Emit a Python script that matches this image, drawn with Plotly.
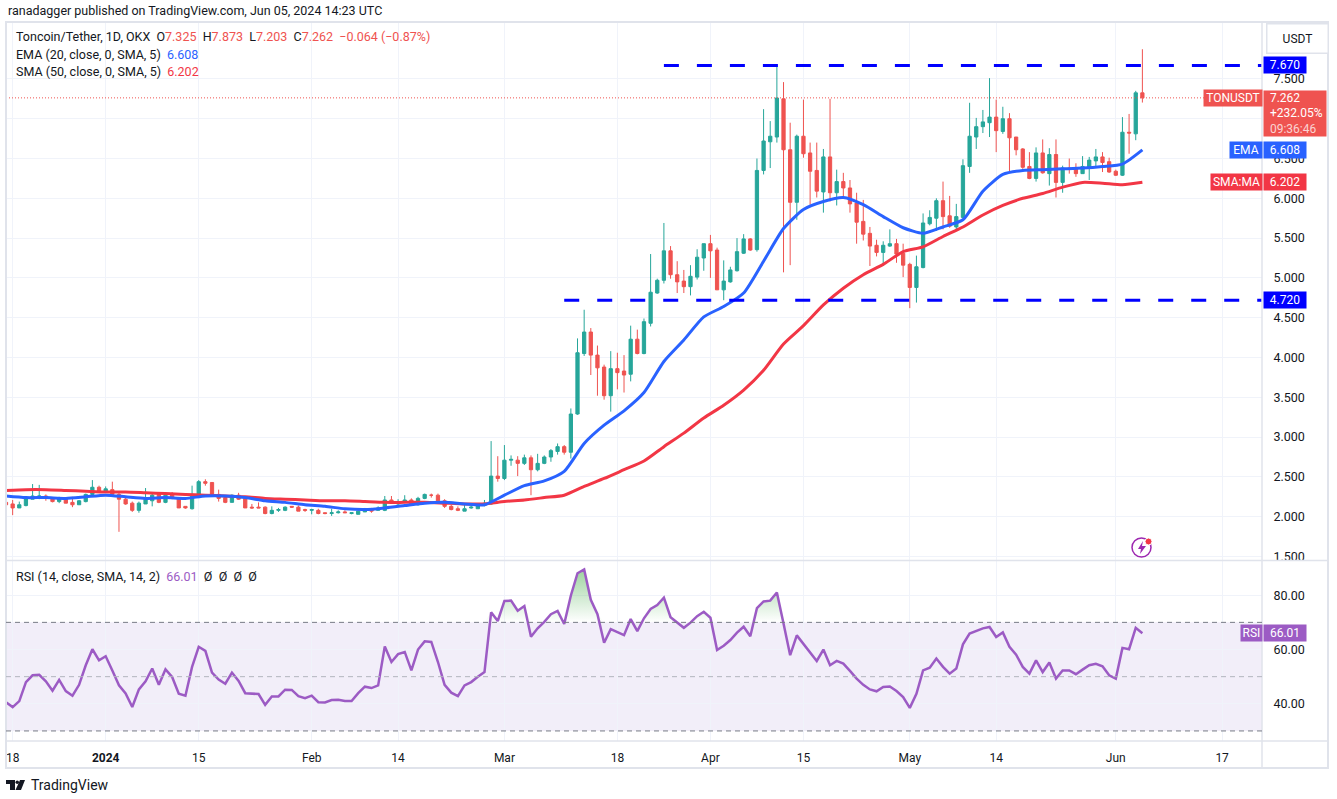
import numpy as np
import pandas as pd
import plotly.graph_objects as go

W, H = 1337, 799
FONT = "Roboto"
TEXT = "#131722"
UP, DOWN = "#26a69a", "#ef5350"
BLUE, RED, PURPLE = "#2962ff", "#f23645", "#9c5bc4"
GRID, FRAME = "#f0f3fa", "#e0e3eb"

opens = [
    2.18,2.16,2.11,2.14,2.22,2.25,2.26,2.23,2.19,2.23,
    2.18,2.15,2.19,2.28,2.37,2.32,2.34,2.28,2.22,2.17,
    2.08,2.16,2.20,2.28,2.18,2.28,2.23,2.13,2.10,2.28,
    2.44,2.43,2.28,2.24,2.18,2.27,2.23,2.12,2.12,2.12,
    2.04,2.08,2.08,2.13,2.12,2.09,2.08,2.08,2.05,2.04,
    2.05,2.06,2.04,2.03,2.06,2.09,2.08,2.08,2.21,2.16,
    2.18,2.21,2.15,2.23,2.27,2.27,2.20,2.13,2.10,2.07,
    2.11,2.10,2.14,2.16,2.51,2.48,2.71,2.71,2.67,2.74,
    2.59,2.67,2.75,2.82,2.88,2.81,3.29,4.05,4.32,4.03,
    3.88,3.52,3.86,3.83,3.79,4.23,4.05,4.43,4.81,4.97,
    5.34,5.04,4.96,4.89,5.01,5.25,5.43,5.35,4.85,4.95,
    5.09,5.31,5.49,5.355,6.35,6.71,6.77,7.25,6.61,5.95,
    6.78,6.57,6.35,6.08,6.52,6.07,6.21,6.13,5.94,5.71,
    5.56,5.41,5.32,5.40,5.43,5.31,5.17,4.88,5.13,5.68,
    5.75,5.97,5.78,5.64,5.76,6.40,6.77,6.90,6.95,7.02,
    6.84,7.00,6.77,6.62,6.40,6.25,6.57,6.31,6.55,6.20,
    6.38,6.38,6.31,6.39,6.47,6.52,6.46,6.34,6.29,6.83,6.81,7.325,
]
highs = [
    2.19,2.21,2.19,2.24,2.41,2.40,2.28,2.24,2.25,2.24,
    2.25,2.21,2.29,2.46,2.39,2.38,2.44,2.30,2.24,2.19,
    2.19,2.36,2.29,2.29,2.28,2.31,2.24,2.13,2.39,2.46,
    2.47,2.43,2.34,2.26,2.28,2.30,2.24,2.16,2.18,2.13,
    2.13,2.11,2.13,2.13,2.14,2.10,2.10,2.10,2.05,2.10,
    2.08,2.08,2.05,2.08,2.11,2.11,2.13,2.26,2.26,2.22,
    2.27,2.23,2.25,2.29,2.29,2.29,2.22,2.15,2.13,2.16,
    2.14,2.15,2.21,2.95,2.76,2.90,2.77,2.76,2.78,2.77,
    2.79,2.77,2.85,2.92,2.90,3.36,4.24,4.60,4.37,4.15,
    3.91,4.08,4.06,4.03,4.40,4.35,4.49,5.30,4.99,5.69,
    5.40,5.21,5.10,5.16,5.36,5.43,5.54,5.38,5.22,5.14,
    5.50,5.55,5.50,6.50,7.12,6.97,7.68,7.46,6.95,6.80,
    7.24,6.70,6.70,6.62,7.25,6.36,6.32,6.23,6.07,5.98,
    5.64,5.48,5.46,5.61,5.49,5.43,5.19,5.28,5.81,5.85,
    6.00,6.21,6.03,5.93,6.49,7.20,7.01,7.11,7.51,7.24,
    7.15,7.07,6.77,6.63,6.58,6.64,6.74,6.63,6.74,6.41,
    6.50,6.44,6.53,6.52,6.62,6.58,6.51,6.36,7.02,7.06,7.35,7.873,
]
lows = [
    2.14,2.02,2.11,2.13,2.22,2.22,2.20,2.18,2.17,2.17,
    2.12,2.15,2.18,2.27,2.31,2.31,2.27,1.81,2.15,2.06,
    2.05,2.16,2.13,2.17,2.17,2.22,2.11,2.10,2.09,2.27,
    2.39,2.26,2.19,2.17,2.18,2.21,2.11,2.10,2.11,2.03,
    2.03,2.06,2.07,2.11,2.07,2.06,2.03,2.03,2.03,2.01,
    2.04,2.05,2.03,2.03,2.06,2.05,2.08,2.07,2.16,2.14,
    2.17,2.14,2.14,2.22,2.24,2.19,2.11,2.08,2.07,2.07,
    2.10,2.10,2.13,2.15,2.44,2.46,2.64,2.51,2.65,2.27,
    2.57,2.66,2.69,2.78,2.78,2.73,3.28,4.02,3.78,3.52,
    3.47,3.32,3.60,3.56,3.70,4.04,4.04,4.39,4.80,4.93,
    4.99,4.81,4.81,4.78,4.98,5.09,5.00,4.85,4.72,4.94,
    5.08,5.30,5.34,5.33,6.30,6.38,6.70,5.07,5.16,5.73,
    6.51,5.92,6.01,5.82,5.96,5.91,6.02,5.82,5.43,5.47,
    5.15,5.27,5.15,5.39,5.19,5.01,4.62,4.69,5.12,5.66,
    5.59,5.61,5.63,5.61,5.75,6.32,6.62,6.82,6.77,6.58,
    6.81,6.34,6.54,6.37,6.24,6.21,6.31,6.16,6.01,6.07,
    6.31,6.27,6.31,6.23,6.40,6.33,6.32,6.28,6.28,6.56,6.73,7.203,
]
closes = [
    2.15,2.11,2.15,2.23,2.26,2.26,2.23,2.19,2.23,2.17,
    2.15,2.20,2.28,2.37,2.32,2.35,2.28,2.22,2.16,2.08,
    2.17,2.22,2.27,2.18,2.27,2.23,2.11,2.11,2.28,2.44,
    2.42,2.27,2.23,2.18,2.27,2.22,2.11,2.11,2.11,2.04,
    2.08,2.09,2.12,2.12,2.07,2.08,2.09,2.04,2.04,2.05,
    2.06,2.05,2.05,2.07,2.10,2.07,2.11,2.21,2.17,2.19,
    2.21,2.15,2.23,2.28,2.27,2.20,2.13,2.09,2.08,2.10,
    2.12,2.14,2.17,2.51,2.48,2.71,2.72,2.67,2.74,2.59,
    2.67,2.75,2.83,2.88,2.81,3.29,4.06,4.32,4.03,3.87,
    3.52,3.86,3.81,3.78,4.23,4.05,4.45,4.82,4.97,5.34,
    5.04,4.95,4.89,5.02,5.26,5.43,5.34,4.85,4.96,5.10,
    5.33,5.49,5.35,6.35,6.72,6.78,7.26,6.61,5.95,6.78,
    6.56,6.34,6.09,6.52,6.07,6.21,6.13,5.93,5.70,5.55,
    5.40,5.32,5.41,5.43,5.30,5.16,4.88,5.14,5.69,5.76,
    5.97,5.77,5.65,5.77,6.41,6.78,6.90,6.96,7.02,6.85,
    7.00,6.76,6.61,6.39,6.25,6.57,6.32,6.55,6.20,6.38,
    6.37,6.31,6.40,6.48,6.52,6.45,6.33,6.29,6.83,6.82,7.325,7.262,
]

# moving averages, read every third day
ema_values = [
    2.26,2.24,2.24,2.23,2.25,2.27,2.25,2.23,2.24,2.23,
    2.26,2.26,2.24,2.20,2.18,2.15,2.13,2.10,2.09,2.11,
    2.14,2.17,2.18,2.16,2.15,2.27,2.39,2.45,2.57,2.92,
    3.15,3.33,3.56,3.95,4.22,4.51,4.64,4.81,5.21,5.62,
    5.86,5.96,6.01,5.92,5.77,5.63,5.56,5.64,5.73,6.09,
    6.30,6.35,6.36,6.37,6.38,6.40,6.43,6.608,
]
sma_values = [
    2.33,2.34,2.34,2.33,2.32,2.31,2.31,2.30,2.29,2.28,
    2.27,2.26,2.25,2.23,2.22,2.21,2.20,2.20,2.19,2.18,
    2.18,2.18,2.17,2.16,2.16,2.19,2.21,2.24,2.27,2.38,
    2.48,2.59,2.70,2.88,3.05,3.24,3.40,3.59,3.84,4.17,
    4.40,4.66,4.87,5.04,5.17,5.33,5.39,5.52,5.64,5.79,
    5.91,6.00,6.06,6.14,6.20,6.19,6.17,6.202,
]

rsi_values = [
    40.6,38.8,41.0,48.0,50.5,50.7,48.3,44.8,48.8,44.7,
    43.0,47.0,54.2,60.1,56.0,57.5,52.3,46.8,43.8,38.8,
    45.3,48.3,53.0,47.0,52.7,49.9,43.7,43.0,53.6,61.0,
    59.5,51.5,48.9,47.4,51.5,48.4,43.9,43.8,43.6,39.6,
    42.7,42.7,45.2,45.1,42.8,42.1,43.0,40.6,40.5,41.4,
    41.5,41.0,41.0,43.9,46.3,45.8,46.8,61.1,55.4,58.3,
    59.1,52.3,60.0,63.0,62.8,55.4,47.0,44.1,42.8,46.8,
    48.0,50.0,51.7,73.7,70.5,77.9,78.0,74.3,76.0,64.7,
    67.8,70.2,73.0,74.2,69.4,79.9,88.1,89.5,78.3,73.0,
    62.5,67.5,66.3,65.3,71.2,66.8,71.5,74.9,76.4,
    79.1,71.9,69.9,68.0,69.9,72.3,73.9,71.7,59.8,61.4,
    63.5,66.2,68.4,64.9,75.2,77.7,78.0,81.0,69.6,57.9,
    65.2,62.2,59.1,55.8,60.0,54.2,55.8,54.8,52.1,49.3,
    47.0,45.3,44.6,46.2,46.4,44.7,42.5,38.5,43.7,52.3,
    53.3,56.7,53.6,51.1,53.0,61.9,65.9,66.9,67.8,68.3,
    64.6,66.3,61.0,58.1,53.6,51.1,56.0,51.7,55.2,49.3,
    52.3,52.3,50.9,52.6,54.2,54.7,53.8,50.5,49.3,60.6,
    60.1,68.0,66.01,
]

dates = pd.date_range("2023-12-17", periods=len(closes))
line_dates = dates[::3]

resistance_level = 7.670
support_level = 4.720
resistance_dates = ["2024-03-25", "2024-06-23"]
support_dates = ["2024-03-10", "2024-06-23"]

time_ticks = ["2023-12-18", "2024-01-01", "2024-01-15", "2024-02-01", "2024-02-14", "2024-03-01",
              "2024-03-18", "2024-04-01", "2024-04-15", "2024-05-01", "2024-05-14", "2024-06-01", "2024-06-17"]
time_labels = ["18", "<b>2024</b>", "15", "Feb", "14", "Mar", "18", "Apr", "15", "May", "14", "Jun", "17"]
price_ticks = [1.5, 2, 2.5, 3, 3.5, 4, 4.5, 5, 5.5, 6, 6.5, 7, 7.5]
rsi_ticks = [40, 60, 80]


def px(x):
    return x / W


def py(y):
    return 1 - y / H


fig = go.Figure()

fig.add_trace(go.Candlestick(
    x=dates, open=opens, high=highs, low=lows, close=closes,
    whiskerwidth=0,
    increasing=dict(line=dict(color=UP, width=1), fillcolor=UP),
    decreasing=dict(line=dict(color=DOWN, width=1), fillcolor=DOWN),
    xaxis="x", yaxis="y",
))
fig.add_trace(go.Scatter(x=line_dates, y=sma_values, mode="lines", line=dict(color=RED, width=3, shape="spline", smoothing=0.6),
                         xaxis="x", yaxis="y"))
fig.add_trace(go.Scatter(x=line_dates, y=ema_values, mode="lines", line=dict(color=BLUE, width=3, shape="spline", smoothing=0.6),
                         xaxis="x", yaxis="y"))
for level, span_dates in [(resistance_level, resistance_dates), (support_level, support_dates)]:
    fig.add_trace(go.Scatter(x=span_dates, y=[level, level], mode="lines",
                             line=dict(color="#0000ff", width=3, dash="15px,18px"), xaxis="x", yaxis="y"))

# RSI pane, green above the 70 band
overbought = np.maximum(rsi_values, 70)
fig.add_trace(go.Scatter(x=dates, y=[70] * len(dates), mode="lines", line=dict(width=0), xaxis="x2", yaxis="y2"))
fig.add_trace(go.Scatter(
    x=dates, y=overbought, mode="lines", line=dict(width=0), fill="tonexty",
    fillgradient=dict(type="vertical", colorscale=[[0, "rgba(76,175,80,0)"], [1, "rgba(76,175,80,0.55)"]]),
    xaxis="x2", yaxis="y2",
))
fig.add_trace(go.Scatter(x=dates, y=rsi_values, mode="lines", line=dict(color=PURPLE, width=2.5), xaxis="x2", yaxis="y2"))

shapes = [
    dict(type="rect", xref="paper", yref="y2", x0=px(6), x1=px(1262), y0=30, y1=70,
         fillcolor="rgba(126,87,194,0.1)", line_width=0, layer="below"),
    dict(type="line", xref="paper", yref="y", x0=px(6), x1=px(1262), y0=closes[-1], y1=closes[-1],
         line=dict(color=DOWN, width=1, dash="1px,2px")),
    dict(type="rect", xref="paper", yref="paper", x0=px(6), x1=px(1328), y0=py(768), y1=py(22),
         line=dict(color=FRAME, width=2)),
    dict(type="line", xref="paper", yref="paper", x0=px(1262), x1=px(1262), y0=py(768), y1=py(22),
         line=dict(color=FRAME, width=1.5)),
    dict(type="line", xref="paper", yref="paper", x0=px(6), x1=px(1328), y0=py(560.5), y1=py(560.5),
         line=dict(color=FRAME, width=1.5)),
    dict(type="line", xref="paper", yref="paper", x0=px(6), x1=px(1328), y0=py(741), y1=py(741),
         line=dict(color=FRAME, width=1.5)),
]
for band, colour in [(70, "#787b86"), (50, "#b2b5be"), (30, "#787b86")]:
    shapes.append(dict(type="line", xref="paper", yref="y2", x0=px(6), x1=px(1262), y0=band, y1=band,
                       line=dict(color=colour, width=1, dash="5px,4px")))


def pixel_path(points):
    return "M" + " L".join(f"{px(x):.5f},{py(y):.5f}" for x, y in points) + " Z"


# logo bottom left
shapes.append(dict(type="path", xref="paper", yref="paper", fillcolor=TEXT, line_width=0,
                   path=pixel_path([(6, 780), (15, 780), (15, 790), (10, 790), (10, 784), (6, 784)])))
shapes.append(dict(type="path", xref="paper", yref="paper", fillcolor=TEXT, line_width=0,
                   path=pixel_path([(20, 780), (25, 780), (21, 790), (15.5, 790)])))
shapes.append(dict(type="circle", xref="paper", yref="paper", fillcolor=TEXT, line_width=0,
                   x0=px(15.5), x1=px(19), y0=py(784), y1=py(780.5)))

# flash icon above the RSI pane
shapes.append(dict(type="circle", xref="paper", yref="paper", fillcolor="white",
                   line=dict(color="#9c27b0", width=1.5),
                   x0=px(1132), x1=px(1151), y0=py(557), y1=py(538)))
shapes.append(dict(type="path", xref="paper", yref="paper", fillcolor="#9c27b0", line_width=0,
                   path=pixel_path([(1143, 541), (1138, 549), (1141, 549), (1140, 554), (1146, 546), (1142, 546)])))
shapes.append(dict(type="circle", xref="paper", yref="paper", fillcolor="#f23645", line=dict(color="white", width=1),
                   x0=px(1145), x1=px(1152), y0=py(545), y1=py(538)))


def text_at(x, y, text, size=12.5, color=TEXT):
    return dict(xref="paper", yref="paper", x=px(x), y=py(y), text=text, showarrow=False,
                xanchor="left", yanchor="middle", align="left", font=dict(family=FONT, size=size, color=color))


def span(text, color):
    return f'<span style="color:{color}">{text}</span>'


def price_tag(x, width, value, text, color, yref="y", height=16):
    return dict(xref="paper", yref=yref, x=px(x), y=value, text=text, showarrow=False, xanchor="left",
                yanchor="middle", align="center", width=width, height=height, bgcolor=color, borderpad=0,
                font=dict(family=FONT, size=12, color="white"))


annotations = [
    text_at(6, 10, "ranadagger published on TradingView.com, Jun 05, 2024 14:23 UTC"),
    text_at(14, 37, "Toncoin/Tether, 1D, OKX  O" + span("7.325", DOWN) + "  H" + span("7.873", DOWN)
            + "  L" + span("7.203", DOWN) + "  C" + span("7.262", DOWN) + "  " + span("−0.064 (−0.87%)", DOWN)),
    text_at(14, 54, "EMA (20, close, 0, SMA, 5)  " + span("6.608", BLUE)),
    text_at(14, 71, "SMA (50, close, 0, SMA, 5)  " + span("6.202", RED)),
    text_at(14, 576, "RSI (14, close, SMA, 14, 2)  " + span("66.01", PURPLE) + "  Ø  Ø  Ø  Ø"),
    text_at(29, 785, "TradingView", size=14),
    dict(xref="paper", yref="paper", x=px(1297), y=py(39), text="USDT", showarrow=False, xanchor="center",
         yanchor="middle", width=58, height=26, bordercolor=FRAME, borderwidth=1.5, bgcolor="white",
         font=dict(family=FONT, size=12, color=TEXT)),
    price_tag(1263, 42, resistance_level, "7.670", "#0000ff"),
    price_tag(1263, 42, support_level, "4.720", "#0000ff"),
    price_tag(1203, 58, closes[-1], "TONUSDT", DOWN),
    dict(xref="paper", yref="y", x=px(1263), y=closes[-1], yshift=8,
         text="&nbsp;&nbsp;7.262<br>&nbsp;&nbsp;+232.05%<br>&nbsp;&nbsp;" + span("09:36:46", "rgba(255,255,255,0.75)"),
         showarrow=False, xanchor="left", yanchor="top", align="left",
         width=62, height=45, bgcolor=DOWN, borderpad=0, font=dict(family=FONT, size=12, color="white")),
    price_tag(1229, 32, ema_values[-1], "EMA", BLUE),
    price_tag(1263, 42, ema_values[-1], "6.608", BLUE),
    price_tag(1210, 51, sma_values[-1], "SMA:MA", RED),
    price_tag(1263, 42, sma_values[-1], "6.202", RED),
    price_tag(1240, 21, rsi_values[-1], "RSI", PURPLE, yref="y2"),
    price_tag(1263, 42, rsi_values[-1], "66.01", PURPLE, yref="y2"),
]

x_range = ["2023-12-17", "2024-06-23"]
fig.update_layout(
    width=W, height=H + 4, margin=dict(l=0, r=0, t=0, b=0),
    paper_bgcolor="white", plot_bgcolor="white",
    showlegend=False, shapes=shapes, annotations=annotations,
    font=dict(family=FONT, size=12, color=TEXT),
    boxgap=0.3,
    xaxis=dict(domain=[px(6), px(1262)], range=x_range, anchor="y", tickvals=time_ticks, showticklabels=False,
               showgrid=True, gridcolor=GRID, zeroline=False, rangeslider=dict(visible=False), ticks=""),
    xaxis2=dict(domain=[px(6), px(1262)], range=x_range, anchor="y2", tickvals=time_ticks, ticktext=time_labels,
                showgrid=True, gridcolor=GRID, zeroline=False, ticks="outside", ticklen=6,
                tickcolor="rgba(0,0,0,0)", tickangle=0, tickfont=dict(family=FONT, size=12, color=TEXT)),
    yaxis=dict(domain=[py(560), py(22)], range=[1.456, 8.215], anchor="x", side="right", tickvals=price_ticks,
               ticktext=[f"{v:.3f}" for v in price_ticks], showgrid=True, gridcolor=GRID, zeroline=False,
               ticks="outside", ticklen=8, tickcolor="rgba(0,0,0,0)", tickfont=dict(family=FONT, size=12.5, color=TEXT)),
    yaxis2=dict(domain=[py(741), py(561)], range=[26.3, 92.6], anchor="x2", side="right", tickvals=rsi_ticks,
                ticktext=[f"{v:.2f}" for v in rsi_ticks], showgrid=True, gridcolor=GRID, zeroline=False,
                ticks="outside", ticklen=8, tickcolor="rgba(0,0,0,0)", tickfont=dict(family=FONT, size=12.5, color=TEXT)),
)

fig.write_html("out.html", config=dict(displayModeBar=False),
               post_script="document.body.style.margin='0';document.body.style.overflow='hidden';")
